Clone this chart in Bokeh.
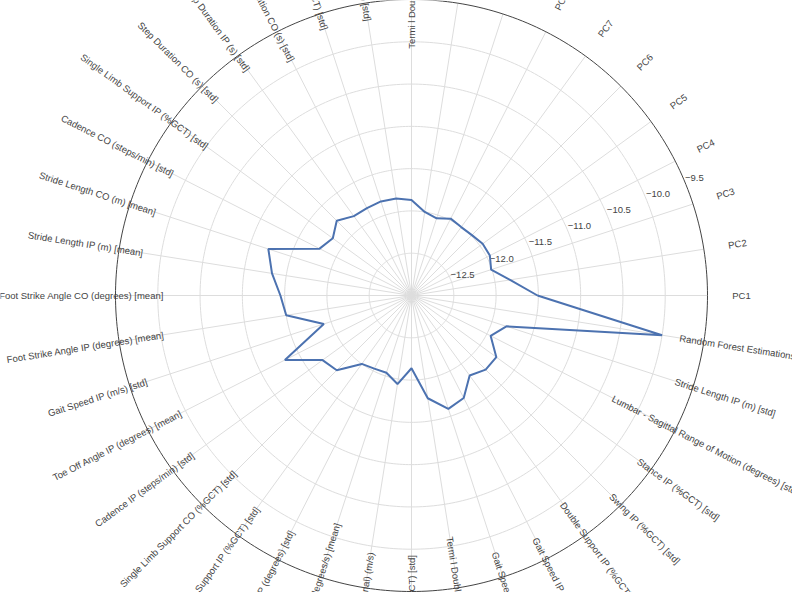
import numpy as np
from bokeh.plotting import figure
from bokeh.models import Range1d, ColumnDataSource
from bokeh.embed import file_html
from bokeh.resources import INLINE
from bokeh.core.properties import value

# ---------------- data ----------------
categories = [
    "PC1", "PC2", "PC3", "PC4", "PC5", "PC6", "PC7", "PC8", "PC9", "PC10",
    "Termi l Double Support IP (%GCT) [std]",
    "Stance CO (%GCT) [std]",
    "Swing CO (%GCT) [std]",
    "Gait Cycle Duration CO (s) [std]",
    "Step Duration IP (s) [std]",
    "Step Duration CO (s) [std]",
    "Single Limb Support IP (%GCT) [std]",
    "Cadence CO (steps/min) [std]",
    "Stride Length CO (m) [mean]",
    "Stride Length IP (m) [mean]",
    "Foot Strike Angle CO (degrees) [mean]",
    "Foot Strike Angle IP (degrees) [mean]",
    "Gait Speed IP (m/s) [std]",
    "Toe Off Angle IP (degrees) [mean]",
    "Cadence IP (steps/min) [std]",
    "Single Limb Support CO (%GCT) [std]",
    "Double Support IP (%GCT) [std]",
    "Toe Off Angle IP (degrees) [std]",
    "Arm - Swing Velocity IP (degrees/s) [mean]",
    "Lumbar - Velocity (Coronal) (m/s)",
    "Double Support CO (%GCT) [std]",
    "Termi l Double Support CO (%GCT) [std]",
    "Gait Speed CO (m/s) [mean]",
    "Gait Speed IP (m/s) [mean]",
    "Double Support IP (%GCT) [mean]",
    "Swing IP (%GCT) [std]",
    "Stance IP (%GCT) [std]",
    "Lumbar - Sagittal Range of Motion (degrees) [std]",
    "Stride Length IP (m) [std]",
    "Random Forest Estimations",
]

scores = [
    -11.51, -11.82, -12.01, -11.96, -11.96, -11.99, -12.00, -11.98, -12.04, -12.00,
    -11.87, -11.84, -11.83, -11.84, -11.84, -11.75, -11.85, -11.78, -11.22, -11.33,
    -11.45, -11.50, -11.91, -11.32, -11.70, -11.75, -12.00, -12.03, -12.04, -11.94,
    -12.14, -11.77, -11.59, -11.64, -11.83, -11.76, -11.76, -11.95, -11.82, -10.00,
]

radial_ticks = [-12.5, -12.0, -11.5, -11.0, -10.5, -10.0, -9.5]
radial_tick_labels = ["\u221212.5", "\u221212.0", "\u221211.5", "\u221211.0",
                      "\u221210.5", "\u221210.0", "\u22129.5"]
radial_range = [-13.0, -9.5]

# ---------------- layout / style ----------------
R_OUT = 296.0          # outer radius in px
LABEL_R = 330.0        # radius of the category label centres
AXIS_DEG = 22.5        # angle of the radial tick labels
CX, CY = 411, 295      # centre inside the canvas (px from left / top)
W, H = 792, 592
GRID = "#dddddd"
TXT = "#444444"
FONT = "Liberation Sans"
FSIZE = "9.5px"


def to_r(v):
    v = np.asarray(v, dtype=float)
    return (v - radial_range[0]) / (radial_range[1] - radial_range[0]) * R_OUT


n = len(categories)
theta_deg = np.arange(n) * 360.0 / n
theta = np.deg2rad(theta_deg)

p = figure(width=W, height=H, output_backend="svg", toolbar_location=None,
           x_range=Range1d(-CX, W - CX), y_range=Range1d(-(H - CY), CY),
           x_axis_location=None, y_axis_location=None, min_border=0,
           tools="")
p.grid.visible = False
p.outline_line_color = None
p.background_fill_color = "white"
p.border_fill_color = "white"

# angular grid lines
p.segment(x0=np.zeros(n), y0=np.zeros(n),
          x1=R_OUT * np.cos(theta), y1=R_OUT * np.sin(theta),
          line_color=GRID, line_width=1)

# radial grid circles (all ticks inside the outer edge)
inner_ticks = [t for t in radial_ticks if t < radial_range[1]]
phi = np.linspace(0, 2 * np.pi, 361)
for t in inner_ticks:
    rr = float(to_r(t))
    p.line(rr * np.cos(phi), rr * np.sin(phi), line_color=GRID, line_width=1)

# outer circle
p.line(R_OUT * np.cos(phi), R_OUT * np.sin(phi), line_color="#444444", line_width=1)

# radial tick labels
a = np.deg2rad(AXIS_DEG)
tr = to_r(radial_ticks)
p.text(x=tr * np.cos(a), y=tr * np.sin(a) + 4.5, text=radial_tick_labels,
       text_align="left", text_baseline="middle",
       text_font=value(FONT), text_font_size=value(FSIZE), text_color=TXT)

# data polygon
rs = to_r(scores)
xs = list(rs * np.cos(theta)) + [rs[0] * np.cos(theta[0])]
ys = list(rs * np.sin(theta)) + [rs[0] * np.sin(theta[0])]
p.line(xs, ys, line_color="#4c72b0", line_width=2)

# category labels, rotated along the radius
ang = np.where((theta_deg > 90) & (theta_deg <= 270), theta_deg - 180, theta_deg)
src = ColumnDataSource(dict(
    x=LABEL_R * np.cos(theta), y=LABEL_R * np.sin(theta),
    text=categories, angle=np.deg2rad(ang)))
p.text(x="x", y="y", text="text", angle="angle", source=src,
       text_align="center", text_baseline="middle",
       text_font=value(FONT), text_font_size=value(FSIZE), text_color=TXT)

open("out.html", "w").write(file_html(p, INLINE))
